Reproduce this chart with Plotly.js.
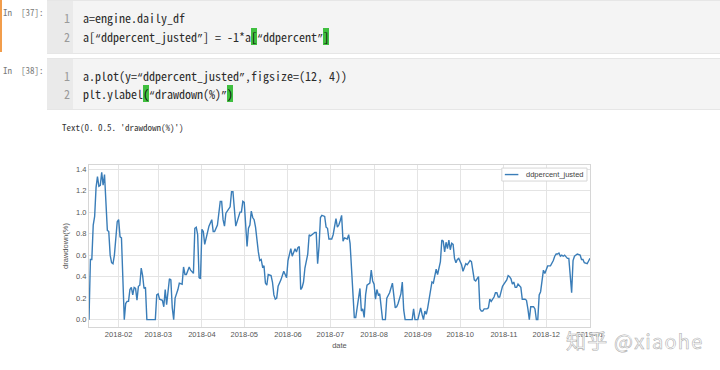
<!DOCTYPE html>
<html>
<head>
<meta charset="utf-8">
<script src="https://cdn.plot.ly/plotly-3.0.1.min.js"></script>
<style>
  html, body { margin:0; padding:0; background:#fff; }
  body { width:720px; height:370px; overflow:hidden; position:relative; }
  .mono { font-family:"Noto Sans Mono CJK SC","Noto Sans CJK SC","DejaVu Sans Mono",monospace; }
  .q { font-family:"Liberation Mono","DejaVu Sans Mono",monospace; font-size:10px; }
  .prompt { position:absolute; left:3px; font-size:9px; color:#7a7a7a; white-space:pre; }
  .cell { position:absolute; left:47px; width:673px; background:#f4f4f4; border-top:1px solid #e6e6e6; border-bottom:1px solid #e6e6e6; }
  .gutter { position:absolute; left:0; top:0; bottom:0; width:26px; background:#eaeaea; }
  .ln { position:absolute; left:0; width:23px; text-align:right; font-size:12px; color:#9a9a9a; line-height:18px; }
  .code { position:absolute; left:36px; font-size:12px; color:#2a2a2a; white-space:pre; line-height:18px; }
  .hl { background:#3fbf3f; color:#111; }
  .sel { position:absolute; left:0; top:0; width:2px; height:52px; background:#f29d4b; }
  .out { position:absolute; left:62px; top:122px; font-size:9px; color:#333; white-space:pre; line-height:12px; }
  #plot { position:absolute; left:0; top:140px; width:720px; height:230px; }
  .wm { position:absolute; left:566px; top:326px; font-family:"Noto Sans CJK SC",sans-serif; font-size:20px; color:#fff; -webkit-text-stroke:0.6px #b0b0b0; white-space:pre; z-index:5; letter-spacing:1.2px; }
</style>
</head>
<body>
<div class="sel"></div>
<div class="prompt mono" style="top:6px;">In  [37]:</div>
<div class="cell mono" style="top:0; height:52px;">
  <div class="gutter"></div>
  <div class="ln" style="top:8px;">1</div>
  <div class="ln" style="top:27px;">2</div>
  <div class="code" style="top:8px;">a=engine.daily_df</div>
  <div class="code" style="top:27px;">a[<span class="q">“</span>ddpercent_justed<span class="q">”</span>] = -1*a<span class="hl">[</span><span class="q">“</span>ddpercent<span class="q">”</span><span class="hl">]</span></div>
</div>
<div class="prompt mono" style="top:64px;">In  [38]:</div>
<div class="cell mono" style="top:58px; height:50px;">
  <div class="gutter"></div>
  <div class="ln" style="top:8px;">1</div>
  <div class="ln" style="top:26px;">2</div>
  <div class="code" style="top:8px;">a.plot(y=<span class="q">“</span>ddpercent_justed<span class="q">”</span>,figsize=(12, 4))</div>
  <div class="code" style="top:26px;">plt.ylabel<span class="hl">(</span><span class="q">“</span>drawdown(%)<span class="q">”</span><span class="hl">)</span></div>
</div>
<div class="out mono">Text(0. 0.5. 'drawdown(%)')</div>
<div id="plot"></div>
<div class="wm">知乎 @xiaohe</div>
<script>
const seriesName = "ddpercent_justed";
const yLabel = "drawdown(%)";
const xLabel = "date";

const dates = [
"2018-01-11","2018-01-12","2018-01-13","2018-01-14","2018-01-15","2018-01-16","2018-01-17","2018-01-18","2018-01-19","2018-01-20",
"2018-01-21","2018-01-22","2018-01-24","2018-01-25","2018-01-26","2018-01-27","2018-01-28","2018-01-29","2018-01-31","2018-02-01",
"2018-02-02","2018-02-03","2018-02-05","2018-02-06","2018-02-07","2018-02-08","2018-02-09","2018-02-10","2018-02-11","2018-02-12",
"2018-02-13","2018-02-14","2018-02-15","2018-02-16","2018-02-17","2018-02-18","2018-02-19","2018-02-20","2018-02-21","2018-02-27",
"2018-02-28","2018-03-01","2018-03-02","2018-03-04","2018-03-05","2018-03-06","2018-03-07","2018-03-09","2018-03-10","2018-03-11",
"2018-03-12","2018-03-13","2018-03-15","2018-03-16","2018-03-18","2018-03-19","2018-03-20","2018-03-21","2018-03-23","2018-03-24",
"2018-03-26","2018-03-27","2018-03-28","2018-03-29","2018-03-30","2018-03-31","2018-04-01","2018-04-02","2018-04-03","2018-04-05",
"2018-04-06","2018-04-08","2018-04-09","2018-04-10","2018-04-12","2018-04-14","2018-04-15","2018-04-16","2018-04-17","2018-04-18",
"2018-04-20","2018-04-21","2018-04-22","2018-04-23","2018-04-25","2018-04-26","2018-04-28","2018-04-29","2018-04-30","2018-05-01",
"2018-05-03","2018-05-04","2018-05-05","2018-05-06","2018-05-07","2018-05-08","2018-05-09","2018-05-11","2018-05-12","2018-05-13",
"2018-05-14","2018-05-15","2018-05-16","2018-05-17","2018-05-18","2018-05-20","2018-05-21","2018-05-22","2018-05-23","2018-05-24",
"2018-05-25","2018-05-26","2018-05-27","2018-05-29","2018-05-30","2018-05-31","2018-06-01","2018-06-03","2018-06-04","2018-06-05",
"2018-06-06","2018-06-07","2018-06-08","2018-06-09","2018-06-10","2018-06-11","2018-06-12","2018-06-13","2018-06-14","2018-06-15",
"2018-06-16","2018-06-17","2018-06-18","2018-06-20","2018-06-21","2018-06-22","2018-06-23","2018-06-24","2018-06-25","2018-06-27",
"2018-06-28","2018-06-29","2018-06-30","2018-07-02","2018-07-03","2018-07-04","2018-07-05","2018-07-06","2018-07-07","2018-07-08",
"2018-07-09","2018-07-10","2018-07-11","2018-07-13","2018-07-14","2018-07-15","2018-07-18","2018-07-19","2018-07-20","2018-07-21",
"2018-07-22","2018-07-23","2018-07-24","2018-07-25","2018-07-26","2018-07-27","2018-07-28","2018-07-29","2018-07-30","2018-07-31",
"2018-08-01","2018-08-02","2018-08-03","2018-08-04","2018-08-05","2018-08-07","2018-08-09","2018-08-10","2018-08-12","2018-08-13",
"2018-08-14","2018-08-16","2018-08-17","2018-08-18","2018-08-20","2018-08-21","2018-08-22","2018-08-23","2018-08-28","2018-08-29",
"2018-08-30","2018-09-01","2018-09-02","2018-09-03","2018-09-04","2018-09-05","2018-09-06","2018-09-07","2018-09-08","2018-09-10",
"2018-09-11","2018-09-12","2018-09-13","2018-09-14","2018-09-15","2018-09-16","2018-09-17","2018-09-18","2018-09-19","2018-09-20",
"2018-09-21","2018-09-22","2018-09-23","2018-09-24","2018-09-25","2018-09-26","2018-09-27","2018-09-28","2018-09-29","2018-09-30",
"2018-10-02","2018-10-03","2018-10-04","2018-10-05","2018-10-06","2018-10-08","2018-10-09","2018-10-10","2018-10-11","2018-10-12",
"2018-10-13","2018-10-14","2018-10-15","2018-10-16","2018-10-17","2018-10-18","2018-10-20","2018-10-21","2018-10-22","2018-10-23",
"2018-10-25","2018-10-26","2018-10-27","2018-10-28","2018-10-29","2018-10-31","2018-11-01","2018-11-02","2018-11-03","2018-11-04",
"2018-11-05","2018-11-06","2018-11-07","2018-11-08","2018-11-09","2018-11-10","2018-11-11","2018-11-13","2018-11-14","2018-11-16",
"2018-11-17","2018-11-18","2018-11-19","2018-11-20","2018-11-22","2018-11-23","2018-11-24","2018-11-25","2018-11-26","2018-11-27",
"2018-11-28","2018-11-29","2018-11-30","2018-12-01","2018-12-02","2018-12-04","2018-12-05","2018-12-06","2018-12-07","2018-12-08",
"2018-12-09","2018-12-10","2018-12-11","2018-12-12","2018-12-13","2018-12-14","2018-12-16","2018-12-17","2018-12-19","2018-12-20",
"2018-12-21","2018-12-23","2018-12-25","2018-12-26","2018-12-27","2018-12-28","2018-12-30","2018-12-31","2019-01-01"
];

const drawdown = [
0.00,0.56,0.56,0.88,0.96,1.23,1.33,1.24,1.25,1.37,
1.25,1.35,0.83,0.82,0.60,0.53,0.52,0.60,0.91,0.93,
0.77,0.76,0.00,0.15,0.17,0.17,0.28,0.30,0.23,0.30,
0.29,0.18,0.31,0.32,0.48,0.41,0.29,0.30,0.00,0.00,
0.23,0.24,0.19,0.18,0.12,0.28,0.14,0.38,0.37,0.11,
0.00,0.20,0.28,0.34,0.33,0.49,0.42,0.42,0.49,0.46,
0.43,0.85,0.86,0.79,0.39,0.38,0.84,0.82,0.70,0.83,
0.87,0.93,0.82,0.82,0.88,1.10,1.10,0.93,0.87,0.99,
1.03,1.05,1.19,1.19,0.87,0.91,1.00,1.00,1.10,1.09,
0.68,0.85,0.88,1.01,0.95,0.93,0.86,0.63,0.55,0.56,
0.49,0.50,0.34,0.32,0.42,0.41,0.35,0.23,0.19,0.20,
0.31,0.34,0.37,0.45,0.42,0.39,0.55,0.66,0.59,0.62,
0.66,0.63,0.67,0.68,0.28,0.30,0.35,0.48,0.56,0.61,
0.79,0.78,0.79,0.81,0.81,0.52,0.68,0.95,0.97,0.96,
0.86,0.85,0.75,0.75,0.79,0.86,0.94,0.86,0.88,0.92,
0.97,0.73,0.76,0.75,0.79,0.71,0.02,0.02,0.12,0.24,
0.29,0.08,0.10,0.02,0.23,0.32,0.33,0.34,0.46,0.36,
0.33,0.19,0.28,0.23,0.24,0.00,0.00,0.20,0.25,0.29,
0.34,0.11,0.12,0.15,0.24,0.35,0.09,0.00,0.00,0.10,
0.00,0.00,0.05,0.11,0.05,0.00,0.08,0.05,0.11,0.29,
0.35,0.34,0.40,0.47,0.42,0.48,0.54,0.74,0.73,0.63,
0.72,0.66,0.74,0.65,0.71,0.70,0.57,0.53,0.56,0.57,
0.51,0.45,0.48,0.52,0.51,0.55,0.54,0.46,0.37,0.36,
0.38,0.40,0.10,0.08,0.08,0.10,0.10,0.11,0.19,0.17,
0.21,0.25,0.25,0.21,0.21,0.31,0.33,0.35,0.37,0.41,
0.40,0.38,0.33,0.35,0.30,0.30,0.33,0.30,0.19,0.19,
0.18,0.10,0.00,0.12,0.12,0.10,0.00,0.00,0.23,0.26,
0.38,0.46,0.43,0.46,0.50,0.50,0.52,0.55,0.59,0.61,
0.61,0.62,0.59,0.60,0.59,0.60,0.57,0.57,0.25,0.55,
0.59,0.61,0.60,0.56,0.56,0.53,0.52,0.55,0.57
];

const lineColor = '#3a7db8';
const trace = {
  x: dates, y: drawdown, type: 'scatter', mode: 'lines', name: seriesName,
  line: { color: lineColor, width: 1.4 }, showlegend: false
};

const gridC = '#e4e4e4', lineC = '#d6d6d6', txtC = '#555';
const layout = {
  width: 720, height: 230,
  margin: { l: 89, r: 130, t: 25, b: 43, pad: 0 },
  paper_bgcolor: 'rgba(0,0,0,0)', plot_bgcolor: '#ffffff',
  font: { family: '"Liberation Sans", Arial, sans-serif', size: 7.5, color: txtC },
  showlegend: false,
  xaxis: {
    type: 'date', range: [dates[0], dates[dates.length - 1]],
    tickformat: '%Y-%m', dtick: 'M1', tick0: '2018-02-01',
    showgrid: true, gridcolor: gridC, gridwidth: 1,
    showline: true, linecolor: lineC, linewidth: 1, mirror: true,
    ticks: '', zeroline: false,
    title: { text: xLabel, font: { size: 7.5, color: txtC }, standoff: 4 }
  },
  yaxis: {
    range: [-0.0685, 1.4385], dtick: 0.2, tick0: 0, tickformat: '.1f',
    showgrid: true, gridcolor: gridC, gridwidth: 1,
    showline: true, linecolor: lineC, linewidth: 1, mirror: true,
    ticks: '', zeroline: false,
    title: { text: yLabel, font: { size: 7.5, color: txtC }, standoff: 6 }
  },
  // compact matplotlib-style legend box (upper right, inside the axes)
  shapes: [
    { type: 'rect', xref: 'x domain', yref: 'y domain', x0: 0.824, x1: 0.994, y0: 0.901, y1: 0.981,
      line: { color: lineC, width: 1 }, fillcolor: '#ffffff', layer: 'above' },
    { type: 'line', xref: 'x domain', yref: 'y domain', x0: 0.830, x1: 0.857, y0: 0.941, y1: 0.941,
      line: { color: lineColor, width: 1.4 }, layer: 'above' }
  ],
  annotations: [
    { xref: 'x domain', yref: 'y domain', x: 0.868, y: 0.941, xanchor: 'left', yanchor: 'middle',
      text: seriesName, showarrow: false, font: { size: 7.5, color: '#444' } }
  ]
};

Plotly.newPlot('plot', [trace], layout, { staticPlot: true, displayModeBar: false });
</script>
</body>
</html>
